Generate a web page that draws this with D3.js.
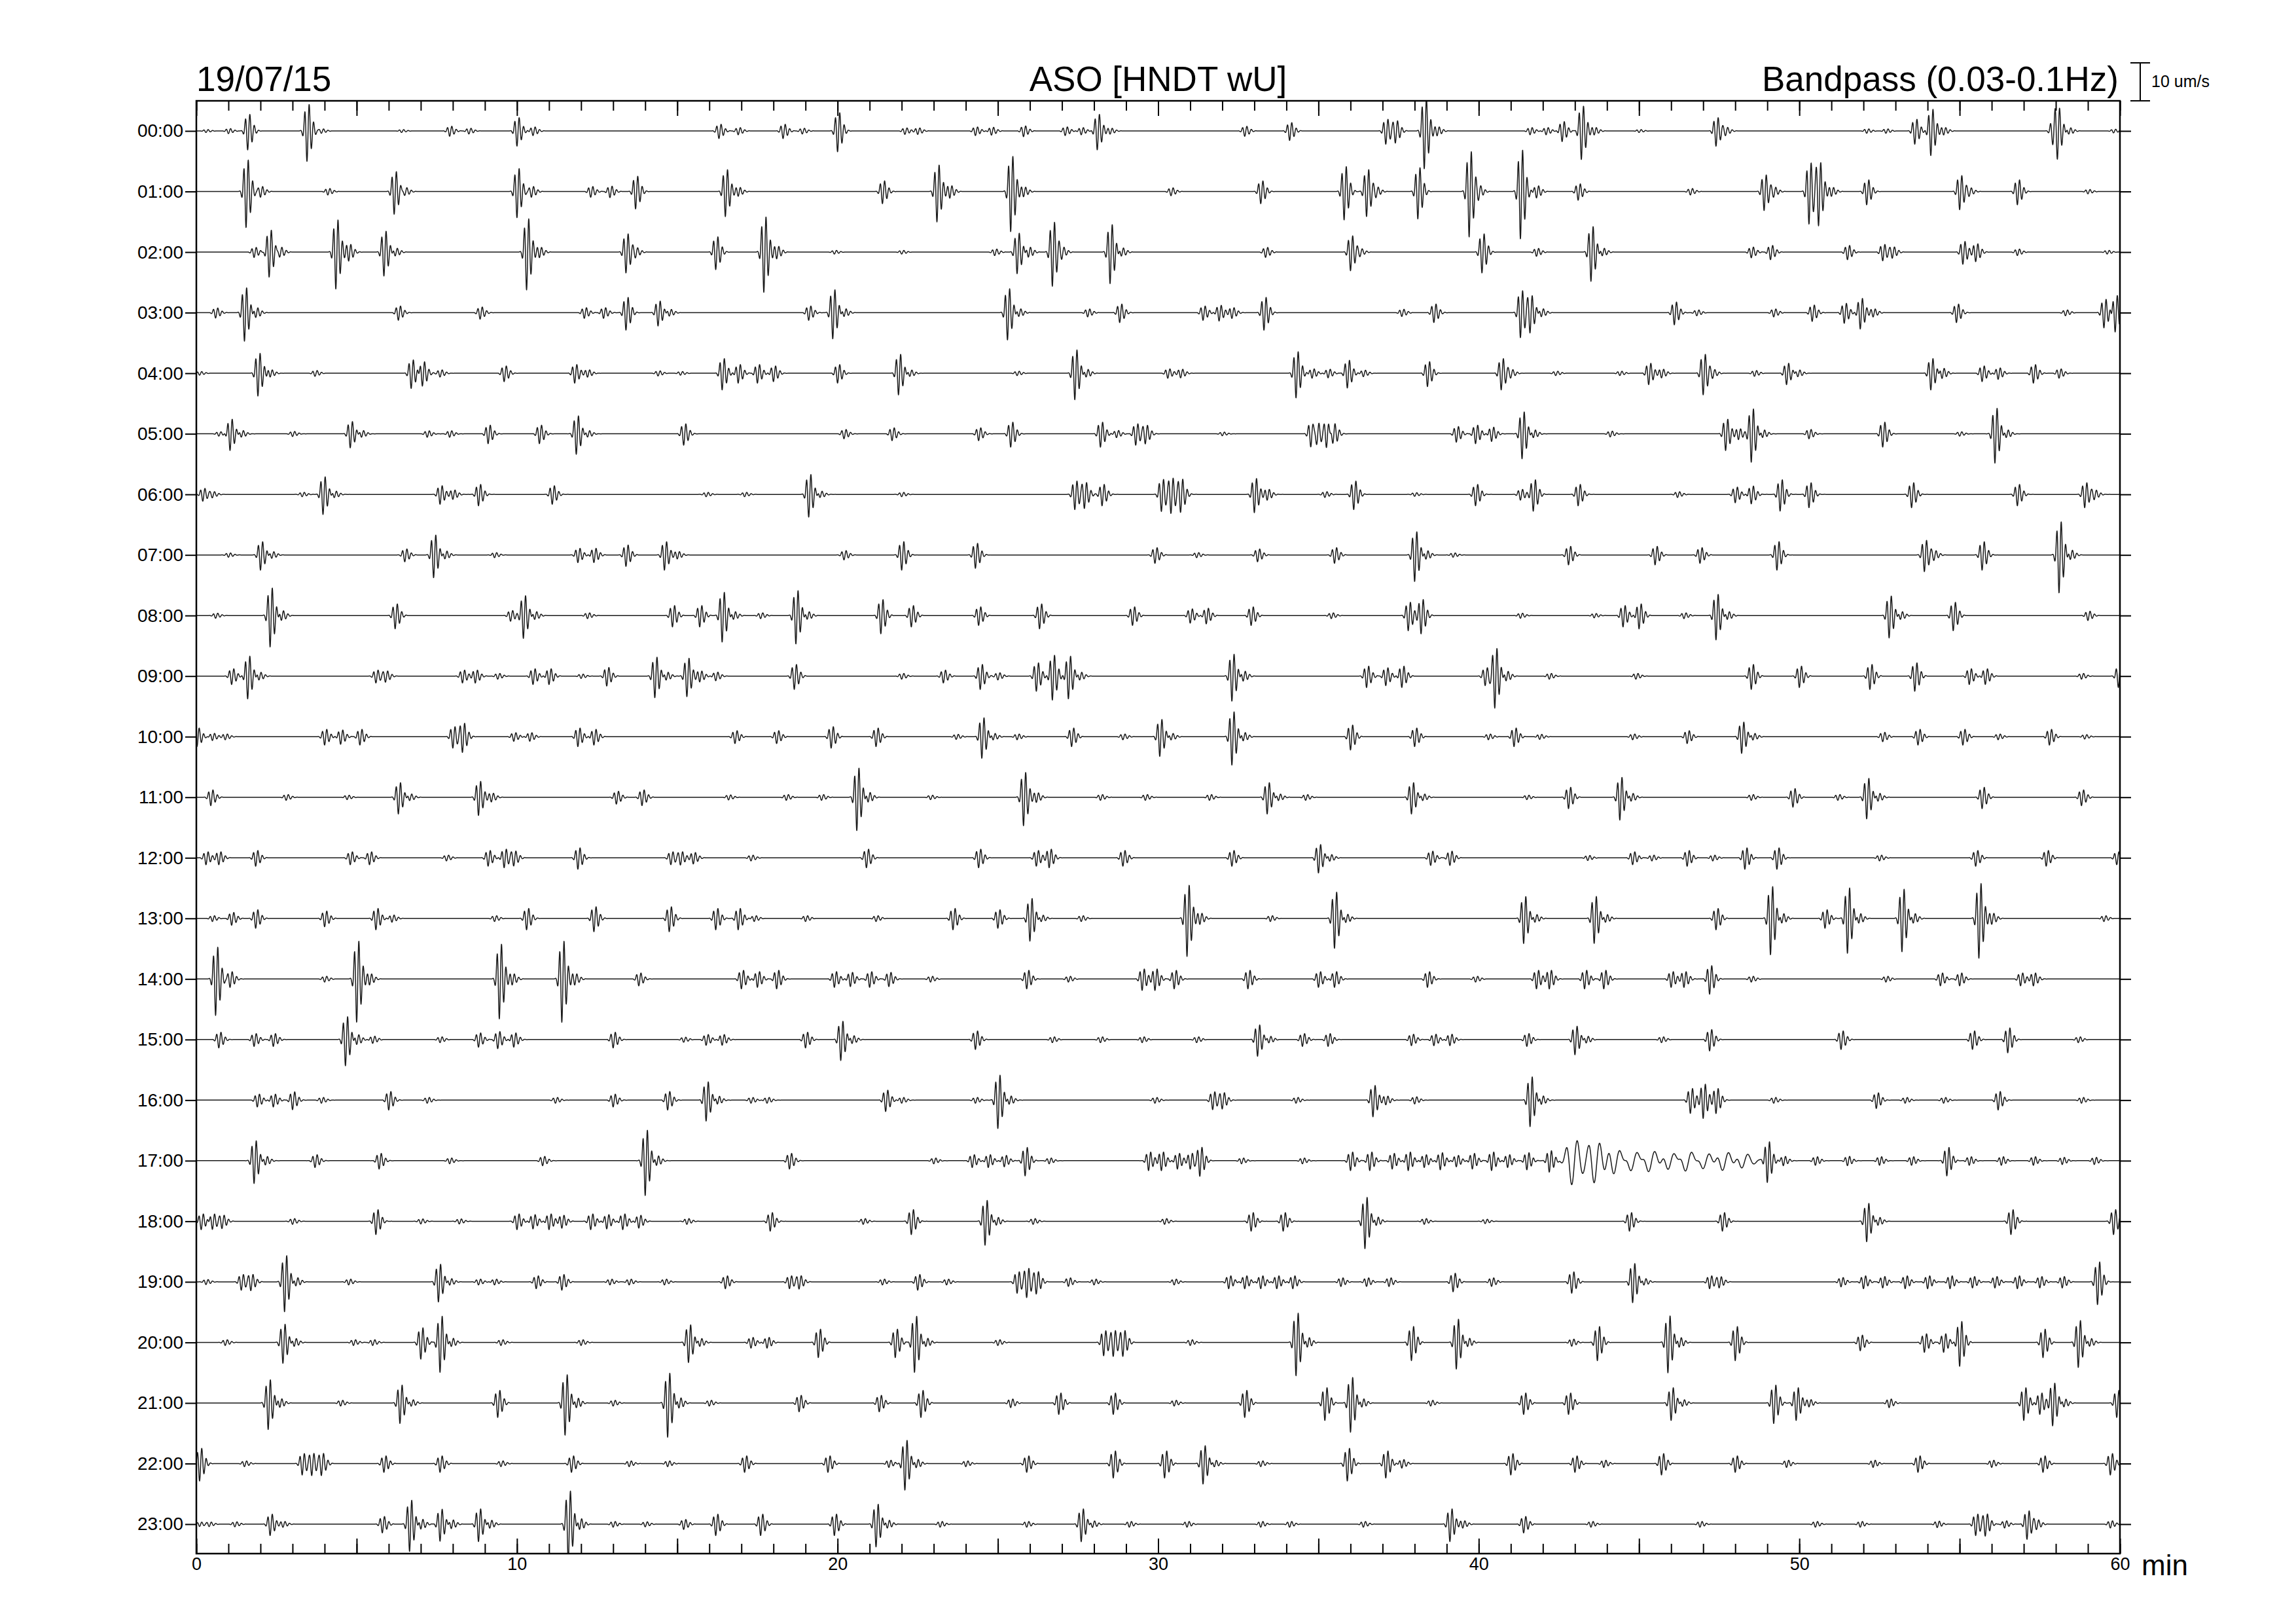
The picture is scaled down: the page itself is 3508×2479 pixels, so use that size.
<!DOCTYPE html>
<html>
<head>
<meta charset="utf-8">
<title>ASO helicorder</title>
<script src="https://d3js.org/d3.v7.min.js"></script>
<style>
  body { margin: 0; background: #fff; }
  text { font-family: "Liberation Sans", Arial, sans-serif; fill: #000; }
</style>
</head>
<body>
<svg id="chart" width="3508" height="2479"></svg>
<script>
// Helicorder page: one trace per hour, events
// each event: [minute, amplitude um/s, optional width (min), optional period (min)]

const rowLabels = ["00:00", "01:00", "02:00", "03:00", "04:00", "05:00", "06:00", "07:00",
  "08:00", "09:00", "10:00", "11:00", "12:00", "13:00", "14:00", "15:00",
  "16:00", "17:00", "18:00", "19:00", "20:00", "21:00", "22:00", "23:00"];
const minuteLabels = [0, 10, 20, 30, 40, 50, 60];

const ev00 = [[0.3,0.4],[1.0,0.7],[1.6,5],[3.45,8],[3.9,0.6],[6.4,0.4],[7.9,1.4],[8.5,0.8],[10.0,4],[10.5,1.2],[16.3,2],[16.9,1],[18.3,2],[18.9,0.8],[20.0,5.5],[22.1,0.9],[22.5,0.9],[24.3,1.2],[24.8,1.1],[25.8,1.5],[27.1,1.2],[27.6,1],[28.1,5],[28.5,0.8],[32.7,1.4],[34.1,2.5],[37.1,3.5],[37.4,3],[38.3,10],[38.7,1.2],[41.6,1],[42.1,1],[42.6,2.8],[43.2,7.5],[43.6,1],[45,0.4],[47.4,4],[47.7,1],[52.1,0.6],[52.7,0.6],[53.6,3.5],[54.1,6.5],[54.5,1],[57.9,3],[58.05,6],[58.4,1],[59.8,0.5]];
const ev01 = [[1.55,9.5],[2.0,1.5],[4.1,0.9],[6.17,6],[6.5,1.2],[10.0,6.9],[10.45,1.5],[12.3,1.5],[12.9,1.6],[13.7,4.6],[16.5,6.6],[16.9,1.2],[21.4,3.2],[23.1,8],[23.5,1.7],[25.4,10.6],[25.8,1.3],[30.4,1.1],[33.2,3.2],[35.8,7.5],[36.5,6.6],[36.8,1.2],[38.1,7.2],[39.7,12],[40.0,1.5],[41.3,12.5],[41.8,1.7],[43.1,2.3],[46.6,0.9],[48.9,5],[49.2,1.2],[50.3,8.6],[50.6,8.6],[51.0,1.2],[52.1,3.5],[55.0,4.8],[55.3,1],[56.8,3.5],[59.0,0.6]];
const ev02 = [[1.8,1.4],[2.27,6.6],[2.6,1.5],[4.35,9.7],[4.75,2.3],[5.85,6.3],[6.2,1.2],[10.3,10],[10.7,1.4],[13.4,5.5],[13.7,1.2],[16.2,4.6],[17.7,10.6],[18.1,1.7],[19.9,0.5],[22.0,0.5],[24.9,0.9],[25.6,5.7],[25.95,1.5],[26.7,9],[27.0,1.3],[28.5,8.3],[28.85,1.3],[33.35,1.4],[36.0,4.9],[36.3,0.9],[40.1,5.5],[41.8,1.1],[43.5,7.7],[43.85,1.2],[48.5,1.5],[49.1,2],[51.5,2],[52.6,2.3],[52.9,1.5],[55.1,3.2],[55.5,2.5],[56.8,0.9],[59.6,0.5]];
const ev03 = [[0.6,1.4],[1.5,7.5],[1.85,1.5],[6.3,2],[8.85,1.7],[12.1,1.5],[12.7,1.5],[13.4,4.6],[14.4,3.5],[14.75,1],[19.1,2],[19.85,6.9],[20.2,1.2],[25.3,7.2],[25.65,1.2],[27.8,1.1],[28.8,2.6],[31.4,2],[31.9,2.2],[32.3,1.5],[33.3,4.6],[37.6,1],[38.6,2.6],[41.3,6.6],[41.6,5],[41.95,1.2],[46.1,3.2],[46.8,0.8],[49.2,1.1],[50.4,2.3],[51.4,2.8],[51.9,4.3],[52.3,1.1],[54.9,2.6],[58.3,0.8],[59.5,4],[59.85,5.2]];
const ev04 = [[0.1,0.5],[1.92,6],[2.3,1],[3.7,0.8],[6.7,4],[7.05,3.5],[7.6,1],[9.6,2.2],[11.8,2.6],[12.2,1],[14.4,0.7],[15.1,0.5],[16.4,4.4],[16.9,2.6],[17.5,2.6],[18.0,2.2],[20.0,2.6],[21.9,5.7],[22.25,1],[25.6,0.6],[27.4,7],[27.75,1.2],[30.3,1.3],[30.7,1.2],[34.3,6.5],[34.8,1.3],[35.3,1.2],[35.9,3.9],[36.4,0.9],[38.4,3.5],[40.7,4.4],[41.0,1],[42.4,0.6],[44.4,0.6],[45.3,3],[45.7,1.2],[47.0,5.7],[47.3,1],[48.6,0.8],[49.6,3],[49.95,1],[54.1,4.4],[54.45,1.5],[55.7,2.2],[56.2,1.6],[57.3,2.6],[58.1,1.3]];
const ev05 = [[0.7,0.6],[1.05,4.4],[1.4,1],[3.0,0.7],[4.8,3.7],[5.15,1],[7.2,0.9],[7.9,0.9],[9.1,2.6],[10.7,2.6],[11.85,5.4],[12.2,1],[15.2,3],[20.2,1.3],[21.7,1.8],[24.4,1.8],[25.4,3.5],[28.2,3.5],[28.7,1],[29.3,3],[29.6,2.5],[32.0,0.5],[34.76,3.5],[34.95,3.5],[35.25,3.5],[35.45,3.5],[39.3,2.2],[39.9,2.6],[40.4,2],[41.35,6.6],[41.7,1.2],[44.1,0.8],[47.7,4.4],[48.1,1.5],[48.5,7.5],[48.85,1.2],[50.3,1.3],[52.6,3.5],[55.0,0.6],[56.1,7.7],[56.45,1.2]];
const ev06 = [[0.2,1.8],[0.5,0.8],[3.3,0.6],[3.95,5.3],[4.3,1],[7.6,2.6],[8.0,1.3],[8.8,3],[11.1,2.6],[15.9,0.6],[17.1,0.6],[19.1,6],[19.45,1],[22.0,0.6],[27.4,4],[27.7,3.5],[28.25,3],[30.1,4.5],[30.4,4.8],[30.7,4.5],[33.0,4.8],[33.4,1.5],[35.2,0.8],[36.1,4],[38.0,0.5],[39.9,3],[41.3,1.5],[41.7,4.4],[43.1,3],[46.2,0.8],[48.0,2.2],[48.5,2.5],[49.4,4.4],[50.3,3.5],[53.5,3.5],[56.8,3],[58.9,3.5],[59.2,1.2]];
const ev07 = [[1.0,0.6],[2.0,4],[2.35,1],[6.5,1.8],[7.4,6],[7.75,1.2],[9.3,0.7],[11.9,2],[12.4,2],[13.4,3],[14.6,4],[15.0,1],[20.2,1.3],[22.0,4],[24.3,3.5],[29.9,2.2],[31.2,0.7],[33.1,1.8],[35.5,2.2],[38.0,7],[38.35,1.3],[39.2,0.6],[42.8,2.6],[45.5,2.6],[46.9,2.2],[49.3,4],[53.9,4.4],[54.2,1.2],[55.7,4],[58.1,10],[58.45,1.5]];
const ev08 = [[0.6,0.7],[2.3,8.3],[2.65,1.5],[6.2,3.5],[9.8,1.5],[10.2,6],[10.55,1.2],[12.2,0.8],[14.85,3],[15.7,3],[16.4,7],[16.75,1.2],[17.6,0.8],[18.7,7.5],[19.05,1.2],[21.35,4.8],[22.3,3],[24.4,2.6],[26.3,3.5],[29.2,2.6],[31.0,2],[31.5,2.2],[32.9,2.6],[35.4,0.8],[37.8,4],[38.2,4.8],[41.3,0.7],[43.6,0.6],[44.5,3],[45.0,3.5],[46.4,0.8],[47.4,6.4],[47.75,1.2],[52.8,5.9],[53.15,1.2],[54.8,4],[59.0,1.3]];
const ev09 = [[1.1,2.2],[1.6,6],[1.95,1.2],[5.6,1.8],[5.9,1.5],[8.3,1.8],[8.7,1.8],[9.4,0.8],[10.5,2.2],[11.0,2.2],[12.0,0.6],[12.8,2.6],[14.3,5.7],[14.65,1.2],[15.3,5.4],[15.7,1.5],[16.2,1.2],[18.65,3.5],[22.0,0.8],[23.3,1.8],[24.45,3.5],[25.0,1],[26.2,4],[26.7,6.3],[27.2,6],[27.55,1.2],[32.3,6.6],[32.65,1.5],[36.5,3],[37.1,2.5],[37.6,3],[40.2,2.5],[40.5,8.3],[40.85,1.5],[42.2,0.8],[44.9,0.8],[48.5,3.5],[50.0,3],[52.2,3.5],[53.6,4],[55.3,2.2],[55.8,2.2],[58.8,0.8],[59.95,3]];
const ev10 = [[0.02,2.6],[0.5,1],[0.9,0.8],[4.0,2.2],[4.5,2],[5.1,2.2],[8.0,3],[8.3,4],[9.9,1.2],[10.4,1.2],[11.9,2.6],[12.4,2.2],[16.8,1.8],[18.1,1.8],[19.8,3],[21.2,2.6],[23.7,0.7],[24.5,5.7],[24.85,1],[25.6,0.8],[27.3,2.6],[28.9,0.8],[30.05,5.2],[30.4,1],[32.3,7.5],[32.65,1.3],[36.0,3.5],[38.0,2.6],[40.3,0.8],[41.1,2.6],[41.9,0.7],[44.8,0.8],[46.5,1.8],[48.2,4.4],[48.55,1],[52.6,1.3],[53.7,2.2],[55.1,2.2],[56.2,0.8],[57.8,2.2],[58.9,0.6]];
const ev11 = [[0.45,2.2],[2.8,0.8],[4.7,0.6],[6.3,4.4],[6.65,1],[8.8,4.8],[9.2,1.2],[13.1,1.8],[13.9,2.2],[16.6,0.7],[18.4,0.8],[19.5,0.8],[20.6,8.8],[20.95,1.5],[22.9,0.6],[25.8,7.5],[26.2,1.3],[28.2,0.8],[29.6,0.8],[31.6,0.8],[33.4,4.4],[33.75,1],[34.6,0.8],[37.9,4.4],[38.25,1],[41.5,0.6],[42.8,3],[44.4,6],[44.75,1.2],[48.5,0.8],[49.8,2.6],[51.2,0.8],[52.1,5.7],[52.45,1.2],[55.7,3],[58.8,2.2]];
const ev12 = [[0.3,1.8],[0.7,1.8],[1.85,2.2],[4.8,1.8],[5.4,1.8],[7.8,0.8],[9.1,2.2],[9.6,2.6],[9.9,2],[11.9,3],[14.8,1.8],[15.1,1.8],[15.5,1.6],[17.3,0.8],[20.9,2.6],[24.4,2.6],[26.2,2.2],[26.6,2.6],[28.9,2.2],[32.3,2.2],[35.0,4],[35.35,1],[38.5,2],[39.1,2],[43.4,0.7],[44.8,1.8],[45.4,0.8],[46.5,2.2],[47.3,0.8],[48.3,3],[49.3,3],[52.5,0.8],[55.5,2.2],[57.7,2.2],[59.9,1.8]];
const ev13 = [[0.5,0.8],[1.1,1.8],[1.85,2.6],[4.0,2.2],[5.6,3],[6.1,1],[9.3,0.8],[10.3,3],[12.4,3.5],[14.75,3.5],[16.2,3],[16.9,3],[17.4,0.8],[19.0,0.8],[21.2,0.8],[23.6,3],[25.0,2.6],[26.0,6],[26.35,1],[27.6,0.8],[30.9,10],[31.3,1.5],[33.5,0.8],[35.5,7.9],[35.85,1.3],[41.4,6.6],[41.75,1.2],[43.6,6.6],[43.95,1.2],[47.4,3],[49.1,9.6],[49.45,1.5],[50.8,2.6],[51.5,9.2],[51.85,1.5],[53.2,8.8],[53.55,1.5],[55.6,10.5],[56.0,1.5],[59.5,0.8]];
const ev14 = [[0.6,9.6],[1.05,2.2],[4.0,0.8],[5.0,11.4],[5.4,1.5],[9.45,10.5],[9.85,1.5],[11.4,11.4],[11.8,1.5],[13.8,1.8],[17.0,2.6],[17.5,2.2],[18.1,2.6],[19.9,2.2],[20.4,2],[21.0,2.2],[21.6,2],[22.9,0.8],[25.9,2.6],[27.2,0.8],[29.5,3],[29.9,3],[30.5,2.6],[32.8,2.6],[35.0,2.2],[35.5,2.2],[38.4,2.2],[39.9,0.8],[41.8,2.6],[42.2,2.6],[43.3,2.6],[43.9,2.6],[46.0,2.2],[46.4,2.2],[47.2,4],[48.5,0.8],[52.7,0.8],[54.4,1.8],[55.0,1.8],[56.9,1.8],[57.3,1.8]];
const ev15 = [[0.7,2.2],[1.8,1.8],[2.4,1.8],[4.65,6.9],[5.0,1.5],[5.5,1],[7.6,0.8],[8.8,2],[9.4,2.4],[9.9,2],[13.0,2.2],[15.2,0.7],[15.9,1.5],[16.4,1.5],[19.0,2.2],[20.1,5.5],[20.45,1.2],[24.3,2.6],[26.7,0.8],[28.2,0.8],[29.5,0.8],[31.2,0.8],[33.1,4.4],[33.45,1],[34.5,1.8],[35.3,1.8],[37.9,1.6],[38.6,1.6],[39.1,1.6],[41.5,1.8],[43.0,4],[43.35,1],[45.7,0.8],[47.2,3],[51.3,2.6],[55.4,2.6],[56.5,3.5],[58.7,0.8]];
const ev16 = [[1.9,1.8],[2.4,1.8],[3.0,2.5],[3.9,0.8],[6.0,2.6],[7.2,0.8],[11.2,0.8],[13.0,1.8],[14.7,2.6],[15.9,5.5],[16.25,1.2],[17.3,0.8],[17.8,0.8],[21.5,3],[22.0,0.8],[24.3,0.8],[25.0,7.5],[25.35,1.3],[29.9,0.8],[31.7,2.5],[32.0,2.2],[34.3,0.8],[36.7,4.4],[37.1,1.2],[38.0,1],[41.6,7],[41.95,1.3],[46.6,3.5],[47.0,4.8],[47.4,3.5],[49.2,0.8],[52.4,2.2],[53.3,0.8],[54.5,0.8],[56.2,2.6],[58.8,0.8]];
const ev17 = [[1.8,6],[2.15,1.3],[3.7,1.8],[5.7,2.2],[7.9,0.8],[10.8,1.3],[14.0,9.2],[14.35,1.5],[18.5,2.2],[23.0,0.8],[24.2,1.8],[24.7,1.8],[25.2,1.6],[25.85,4],[26.6,0.8],[29.7,2.6],[30.1,2.6],[30.6,2.2],[31.0,2.2],[31.3,4],[32.6,0.8],[34.5,0.8],[36.0,2.6],[36.6,2.6],[37.3,2.2],[37.8,2.6],[38.3,1.8],[38.8,2.4],[39.3,1.6],[39.8,2.2],[40.4,2.6],[40.9,1.8],[41.5,2.4],[42.2,3],[42.9,6.3,0.15,0.35],[43.6,5.5,0.15,0.35],[44.2,3.5,0.15,0.4],[44.75,3.0,0.15,0.4],[45.3,3.2,0.15,0.4],[45.9,2.6,0.15,0.4],[46.45,3.0,0.15,0.4],[47.0,2.4,0.15,0.4],[47.6,2.8,0.15,0.4],[48.2,2.2,0.15,0.4],[49.0,5.7],[49.5,1.3],[50.5,1.2],[51.5,1.3],[52.5,1.2],[53.5,1.2],[54.6,4],[55.3,1.2],[56.3,1.2],[57.3,1.2],[58.2,1],[59.2,1]];
const ev18 = [[0.15,2.2],[0.5,2.2],[0.8,1.8],[3.0,0.8],[5.6,3.5],[7.0,0.7],[8.2,0.7],[10.0,2.2],[10.5,2],[11.0,2.2],[11.4,1.8],[12.3,2.2],[12.8,2],[13.3,2.2],[13.8,1.8],[15.3,0.8],[17.9,2.6],[20.8,0.8],[22.3,3.5],[24.6,6.3],[24.95,1.2],[26.1,0.8],[30.2,0.8],[32.9,2.6],[33.9,2.6],[36.45,7.2],[36.8,1.3],[38.3,0.8],[40.2,0.6],[44.7,2.6],[47.6,2.6],[52.1,5.4],[52.45,1.2],[56.6,3.5],[59.8,3.5]];
const ev19 = [[0.3,0.7],[1.4,2.2],[1.7,2.2],[2.75,7.9],[3.1,1.3],[4.75,0.8],[7.55,5.3],[7.9,1],[8.8,0.8],[9.3,0.8],[10.6,1.8],[11.4,2.2],[12.9,0.8],[13.5,0.8],[14.6,0.8],[16.5,1.8],[18.5,1.8],[18.8,1.8],[21.4,0.8],[22.5,2.2],[23.4,0.8],[25.6,3],[25.9,4],[26.2,3],[27.2,1.2],[28.0,0.8],[30.5,0.8],[32.2,1.8],[32.7,1.8],[33.2,1.8],[33.7,1.8],[34.2,1.8],[35.7,1.2],[36.5,1.2],[37.2,1.2],[39.2,2.6],[40.4,1.2],[42.9,3],[44.8,5.5],[45.15,1],[47.2,1.8],[47.5,1.5],[51.3,1.3],[52.0,1.8],[52.6,1.6],[53.3,1.8],[54.0,1.8],[54.7,1.8],[55.4,1.6],[56.1,1.6],[56.8,1.8],[57.5,1.6],[58.2,1.6],[59.3,6]];
const ev20 = [[0.9,0.8],[2.7,5.5],[3.05,1.2],[4.9,0.8],[5.5,0.8],[7.0,4.4],[7.6,7.9],[7.95,1.3],[9.5,0.8],[12.0,0.8],[15.35,5.3],[15.7,1.2],[17.3,1.5],[17.8,1.5],[19.4,4],[21.8,4],[22.4,7.9],[22.75,1.3],[25.0,0.8],[28.3,3.5],[28.6,3.5],[28.9,3.5],[31.0,0.8],[34.3,8.8],[34.65,1.5],[37.9,4.8],[39.3,7],[39.65,1.3],[42.9,1],[43.7,4.8],[45.9,8],[46.25,1.5],[48.0,4.8],[51.9,2.2],[53.9,2.6],[54.5,2.6],[55.0,6.3],[57.6,4],[58.7,6.6],[59.05,1.2]];
const ev21 = [[2.24,7],[2.6,1.3],[4.5,0.8],[6.35,5.4],[6.7,1],[9.4,3.8],[11.5,8.5],[11.85,1.5],[13.0,0.8],[14.7,9],[15.05,1.6],[16.0,0.8],[18.8,2.3],[21.3,2.3],[22.6,3.8],[25.4,1.2],[26.9,3],[28.6,3],[30.5,0.8],[32.7,3.8],[35.2,4.6],[36.0,7.7],[36.35,1.3],[38.5,0.8],[41.4,3],[42.8,3],[46.0,4.6],[46.35,1],[49.2,5.4],[49.9,4.6],[50.3,1],[52.8,1.2],[57.0,4.6],[57.5,3],[57.9,6],[58.25,1.2],[59.9,3.8]];
const ev22 = [[0.1,4.6],[1.5,0.8],[3.3,3],[3.6,3],[3.9,3],[5.85,2.3],[7.6,2.3],[9.5,0.8],[11.7,2.3],[13.5,0.8],[14.7,0.8],[17.1,2.3],[19.7,2.3],[21.6,1],[22.1,7],[22.45,1.3],[24.0,0.8],[25.9,2.3],[28.6,3.8],[30.2,3.8],[31.4,5.4],[31.75,1],[33.2,0.8],[35.9,4.6],[37.1,3.8],[37.6,1.2],[41.0,3],[43.0,2.3],[43.9,1],[45.7,3],[48.0,2.3],[49.6,1],[52.3,1],[53.7,2.3],[56.0,1],[57.6,2.3],[59.7,3]];
const ev23 = [[0.1,0.6],[0.4,0.6],[1.2,0.7],[2.3,3],[2.7,0.8],[5.8,2.3],[6.65,7.2],[7.0,1.5],[7.6,4.5],[7.95,1.3],[8.8,4.6],[9.15,1.2],[11.6,10],[11.95,1.7],[13.0,0.8],[14.0,0.7],[15.2,1.4],[16.2,3],[17.6,3],[19.9,3],[21.2,6],[21.55,1.2],[23.2,0.8],[25.9,0.8],[27.6,4.6],[27.95,1],[29.1,0.8],[30.9,0.8],[33.2,0.8],[34.1,0.8],[36.4,0.8],[39.1,4.6],[39.5,1],[41.4,2.3],[43.5,0.8],[46.9,0.8],[50.5,0.8],[51.9,0.8],[54.3,0.9],[55.5,3],[55.8,3],[56.4,1],[57.1,4],[57.4,1.2],[59.7,1]];

const rows = [ev00, ev01, ev02, ev03, ev04, ev05, ev06, ev07, ev08, ev09, ev10, ev11,
  ev12, ev13, ev14, ev15, ev16, ev17, ev18, ev19, ev20, ev21, ev22, ev23];

const frame = { left: 300, right: 3239, top: 154, bottom: 2373 };

const svg = d3.select("#chart");

const x = d3.scaleLinear().domain([0, 60]).range([frame.left, frame.right]);
const yRow = d3.scalePoint().domain(rowLabels).range([200, 2328]);
// 10 um/s = 58 px (the scale bar)
const amp = d3.scaleLinear().domain([-10, 10]).range([58, -58]);

// shape of one wavelet: short burst with a longer, weaker tail
function wavelet(dt, e) {
  const a = e[1], s = e[2] || 0.07, p = e[3] || 0.14;
  if (dt < -4 * s || dt > 8 * s) return 0;
  const w = dt < 0 ? s : s * 1.9;
  return -a * Math.exp(-0.5 * (dt / w) * (dt / w)) * Math.cos(2 * Math.PI * dt / p);
}

const samples = d3.range(0, 60.0001, 0.006);

svg.append("defs").append("clipPath").attr("id", "clip")
  .append("rect")
  .attr("x", frame.left).attr("y", frame.top)
  .attr("width", frame.right - frame.left).attr("height", frame.bottom - frame.top);

const traces = svg.append("g").attr("clip-path", "url(#clip)");

rows.forEach((events, i) => {
  const base = yRow(rowLabels[i]);
  const pts = samples.map(t => {
    let v = 0;
    for (const e of events) v += wavelet(t - e[0], e);
    return [t, v];
  });
  const line = d3.line().x(d => x(d[0])).y(d => base + amp(d[1]));
  traces.append("path")
    .attr("d", line(pts))
    .attr("fill", "none")
    .attr("stroke", "#1a1a1a")
    .attr("stroke-width", 1.5)
    .attr("stroke-linejoin", "round");
});

// axes
const minorTicks = d3.range(0, 61, 1);
const majorTicks = d3.range(0, 61, 5);

function noDomain(g) { g.select(".domain").remove(); }

svg.append("g")
  .attr("transform", `translate(0,${frame.bottom})`)
  .call(d3.axisBottom(x).tickValues(minorTicks).tickSize(-15).tickFormat(""))
  .call(noDomain);
svg.append("g")
  .attr("transform", `translate(0,${frame.bottom})`)
  .call(d3.axisBottom(x).tickValues(majorTicks).tickSize(-23).tickPadding(6)
    .tickFormat(d => minuteLabels.includes(d) ? d : ""))
  .call(noDomain)
  .call(g => g.selectAll("text").attr("font-size", 27).attr("font-family", "Liberation Sans, Arial, sans-serif"));

svg.append("g")
  .attr("transform", `translate(0,${frame.top})`)
  .call(d3.axisTop(x).tickValues(minorTicks).tickSize(-15).tickFormat(""))
  .call(noDomain);
svg.append("g")
  .attr("transform", `translate(0,${frame.top})`)
  .call(d3.axisTop(x).tickValues(majorTicks).tickSize(-23).tickFormat(""))
  .call(noDomain);

svg.append("g")
  .attr("transform", `translate(${frame.left},0)`)
  .call(d3.axisLeft(yRow).tickSize(17).tickPadding(3))
  .call(noDomain)
  .call(g => g.selectAll("text").attr("font-size", 28).attr("font-family", "Liberation Sans, Arial, sans-serif"));

svg.append("g")
  .attr("transform", `translate(${frame.right},0)`)
  .call(d3.axisRight(yRow).tickSize(17).tickFormat(""))
  .call(noDomain);

svg.selectAll(".tick line").attr("stroke", "#000").attr("stroke-width", 2);

svg.append("rect")
  .attr("x", frame.left).attr("y", frame.top)
  .attr("width", frame.right - frame.left).attr("height", frame.bottom - frame.top)
  .attr("fill", "none").attr("stroke", "#000").attr("stroke-width", 2.5);

// titles
svg.append("text").attr("x", frame.left).attr("y", 139).attr("font-size", 53)
  .text("19/07/15");
svg.append("text").attr("x", (frame.left + frame.right) / 2).attr("y", 139).attr("font-size", 53)
  .attr("text-anchor", "middle").text("ASO [HNDT wU]");
svg.append("text").attr("x", frame.right - 2).attr("y", 139).attr("font-size", 53)
  .attr("text-anchor", "end").text("Bandpass (0.03-0.1Hz)");

// amplitude scale bar (10 um/s)
const barX = 3270, barBottom = frame.top, barTop = frame.top + amp(10) - amp(0);
svg.append("path")
  .attr("d", `M${barX - 15},${barTop}H${barX + 15}M${barX},${barTop}V${barBottom}M${barX - 15},${barBottom}H${barX + 15}`)
  .attr("stroke", "#000").attr("stroke-width", 2).attr("fill", "none");
svg.append("text").attr("x", barX + 17).attr("y", 133).attr("font-size", 25).text("10 um/s");

svg.append("text").attr("x", 3272).attr("y", 2406).attr("font-size", 44).text("min");
</script>
</body>
</html>
